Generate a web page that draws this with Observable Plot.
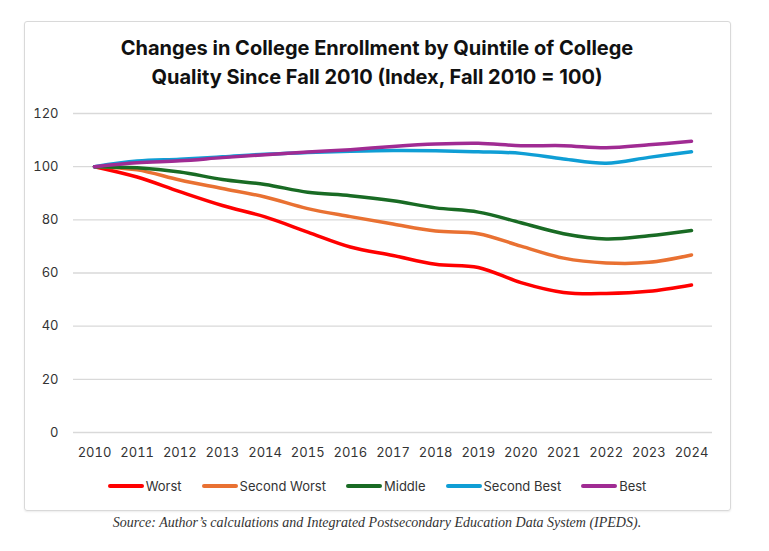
<!DOCTYPE html>
<html>
<head>
<meta charset="utf-8">
<script src="https://cdn.jsdelivr.net/npm/d3@7"></script>
<script src="https://cdn.jsdelivr.net/npm/@observablehq/plot@0.6"></script>
<style>
  html, body { margin: 0; padding: 0; background: #fff; }
  body { width: 769px; height: 551px; position: relative; overflow: hidden; font-family: Inter, "Noto Sans", sans-serif; }
  #box { position: absolute; left: 24px; top: 21px; width: 705px; height: 488px; border: 1px solid #d9d9d9; border-radius: 3px; box-shadow: 0 1px 2px rgba(0,0,0,0.08); }
  #title { position: absolute; left: 24px; top: 34px; width: 706px; text-align: center; font-weight: 700; font-size: 20px; line-height: 29px; color: #111; }
  #chart { position: absolute; left: 24px; top: 100px; }
  #legend { position: absolute; left: 24px; top: 476px; width: 706px; height: 20px; display: flex; justify-content: center; align-items: center; font-size: 13px; color: #333; }
  .item { display: flex; align-items: center; margin: 0 10px; }
  .sw { width: 36px; height: 4px; border-radius: 2px; margin-right: 2px; }
  #caption { position: absolute; left: 24px; top: 514px; width: 706px; text-align: center; font-family: "Liberation Serif", "DejaVu Serif", serif; font-style: italic; font-size: 14px; line-height: 18px; color: #333; }
</style>
</head>
<body>
<div id="box"></div>
<div id="title">Changes in College Enrollment by Quintile of College<br>Quality Since Fall 2010 (Index, Fall 2010 = 100)</div>
<div id="chart"></div>
<div id="legend"></div>
<div id="caption">Source: Author’s calculations and Integrated Postsecondary Education Data System (IPEDS).</div>
<script>
const years = [2010, 2011, 2012, 2013, 2014, 2015, 2016, 2017, 2018, 2019, 2020, 2021, 2022, 2023, 2024];
const worst =       [100, 96.1, 90.6, 85.4, 81.1, 75.4, 69.8, 66.6, 63.3, 62.1, 56.4, 52.7, 52.3, 53.1, 55.5];
const secondWorst = [100, 98.8, 95.0, 91.8, 88.6, 84.2, 81.2, 78.4, 75.8, 74.8, 70.1, 65.6, 63.8, 64.0, 66.8];
const middle =      [100, 99.6, 98.0, 95.2, 93.3, 90.4, 89.1, 87.2, 84.5, 82.9, 78.9, 74.8, 72.8, 74.0, 76.0];
const secondBest =  [100, 102.1, 102.8, 103.7, 104.7, 105.3, 105.8, 106.1, 106.0, 105.6, 105.0, 102.9, 101.3, 103.5, 105.6];
const best =        [100, 101.5, 102.2, 103.4, 104.5, 105.5, 106.4, 107.6, 108.5, 108.8, 107.9, 107.9, 107.1, 108.2, 109.6];
const seriesNames = ["Worst", "Second Worst", "Middle", "Second Best", "Best"];
const seriesColors = ["#FF0000", "#E97132", "#196B24", "#0F9ED5", "#A02B93"];
const yTicks = [0, 20, 40, 60, 80, 100, 120];

const seriesValues = [worst, secondWorst, middle, secondBest, best];
const data = [];
seriesNames.forEach((name, i) => {
  years.forEach((yr, j) => data.push({ series: name, year: yr, value: seriesValues[i][j] }));
});

const chart = Plot.plot({
  width: 706,
  height: 370,
  marginTop: 13,
  marginBottom: 38,
  marginLeft: 49,
  marginRight: 18,
  style: { fontFamily: "Inter, 'Noto Sans', sans-serif", fontSize: "13px", color: "#333", background: "transparent" },
  x: { domain: [2010, 2024], range: [70, 667], ticks: years, tickFormat: d => String(d), tickSize: 0, tickPadding: 15, label: null },
  y: { domain: [0, 120], ticks: yTicks, tickSize: 0, tickPadding: 15, label: null, tickFormat: d => String(d) },
  color: { domain: seriesNames, range: seriesColors },
  marks: [
    Plot.ruleY(yTicks, { stroke: "#d9d9d9", strokeWidth: 1.3 }),
    Plot.line(data, { x: "year", y: "value", z: "series", stroke: "series", strokeWidth: 3.5, curve: "catmull-rom", strokeLinecap: "round", strokeLinejoin: "round" })
  ]
});
document.getElementById("chart").appendChild(chart);

const legend = document.getElementById("legend");
seriesNames.forEach((name, i) => {
  const item = document.createElement("div");
  item.className = "item";
  const sw = document.createElement("div");
  sw.className = "sw";
  sw.style.background = seriesColors[i];
  const t = document.createElement("span");
  t.textContent = name;
  item.appendChild(sw);
  item.appendChild(t);
  legend.appendChild(item);
});
</script>
</body>
</html>
